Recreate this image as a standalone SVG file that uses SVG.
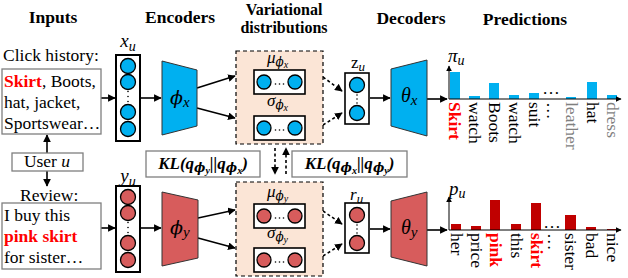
<svg xmlns="http://www.w3.org/2000/svg" width="628" height="278" viewBox="0 0 628 278">
<style>
text{font-family:"Liberation Serif","Times New Roman",serif;fill:#000}
.ti{font-size:17.5px;font-weight:bold;text-anchor:middle}
.ti2{font-size:16px}
.bd{font-size:17.5px}
.rd{fill:#ff0000;font-weight:bold}
.gy{fill:#7f7f7f}
.m{font-style:italic}
.ph{font-family:"DejaVu Serif","Liberation Serif",serif;font-style:italic}
.lb{font-size:17.5px}
.kl{font-size:17px;font-weight:bold;font-style:italic}
.tb{fill:#fff;stroke:#7f7f7f;stroke-width:1.3}
.col{fill:#fff;stroke:#000;stroke-width:2}
.ib{fill:#fff;stroke:#000;stroke-width:1.6}
.cb{fill:#00b0f0;stroke:#000;stroke-width:1.3}
.cr{fill:#d75c5c;stroke:#000;stroke-width:1.3}
.tzb{fill:#00b0f0;stroke:#333;stroke-width:1}
.tzr{fill:#d75c5c;stroke:#333;stroke-width:1}
.vd{fill:#fbe5d6;stroke:#000;stroke-width:1.2;stroke-dasharray:4,3}
.ar{fill:none;stroke:#000;stroke-width:1.6;marker-end:url(#ah)}
.da{fill:none;stroke:#000;stroke-width:1.6;stroke-dasharray:3,2.5;marker-end:url(#ah)}
.ax{fill:none;stroke:#000;stroke-width:1;marker-end:url(#ah2)}
.bb{fill:#00b0f0}
.br{fill:#c00000}
.dot{fill:#000}
</style>
<defs>
<marker id="ah" viewBox="0 0 10 10" refX="9" refY="5" markerWidth="4.8" markerHeight="4.8" orient="auto"><path d="M0,0 L10,5 L0,10 z" fill="#000"/></marker>
<marker id="ah2" viewBox="0 0 10 10" refX="9" refY="5" markerWidth="6" markerHeight="6" orient="auto"><path d="M0,0 L10,5 L0,10 z" fill="#000"/></marker>
</defs>

<g id="titles">
<text class="ti" x="53" y="23">Inputs</text>
<text class="ti" x="180" y="23">Encoders</text>
<text class="ti ti2" x="284" y="14.5">Variational</text>
<text class="ti ti2" x="284" y="32.5">distributions</text>
<text class="ti" x="411" y="24">Decoders</text>
<text class="ti" x="525" y="25">Predictions</text>
</g>

<g id="connectors">
<path class="ar" d="M47,153 V135"/>
<path class="ar" d="M47,171 V186"/>
<path class="ar" d="M101,98 H115"/>
<path class="ar" d="M141,98 H161"/>
<path class="ar" d="M197,88 L235,76"/>
<path class="ar" d="M197,108 L235,118"/>
<path class="da" d="M323,77 L342,91"/>
<path class="da" d="M323,125 L342,113"/>
<path class="ar" d="M370,98 H390"/>
<path class="ar" d="M427,99 H447"/>
<path class="ar" d="M101,228 H115"/>
<path class="ar" d="M141,228 H161"/>
<path class="ar" d="M198,218 L235,210"/>
<path class="ar" d="M198,238 L235,248"/>
<path class="da" d="M323,211 L342,224"/>
<path class="da" d="M323,256 L342,244"/>
<path class="ar" d="M370,229 H390"/>
<path class="ar" d="M427,230 H447"/>
<path class="da" d="M275,148 V174"/>
<path class="da" d="M286,174 V148"/>
</g>

<g id="click-history">
<text class="bd" x="3" y="61">Click history:</text>
<rect class="tb" x="2" y="69" width="99" height="65"/>
<text class="bd" x="4" y="87"><tspan class="rd">Skirt</tspan>, Boots,</text>
<text class="bd" x="4" y="108">hat, jacket,</text>
<text class="bd" x="4" y="129">Sportswear…</text>
</g>

<g id="user">
<rect class="tb" x="12" y="153" width="71" height="18"/>
<text class="bd" x="47" y="167" text-anchor="middle">User <tspan class="m">u</tspan></text>
</g>

<g id="review">
<text class="bd" x="20" y="201">Review:</text>
<rect class="tb" x="2" y="203" width="99" height="66"/>
<text class="bd" x="4" y="221">I buy this</text>
<text class="bd rd" x="4" y="242">pink skirt</text>
<text class="bd" x="4" y="263">for sister…</text>
</g>

<g id="xu">
<text class="m" x="128" y="47" font-size="19" text-anchor="middle">x<tspan dy="4" font-size="14">u</tspan></text>
<rect class="col" x="116" y="55" width="24" height="86"/>
<circle class="cb" cx="128" cy="66" r="7.5"/>
<circle class="cb" cx="128" cy="82" r="7.5"/>
<circle class="dot" cx="128" cy="91.5" r="0.8"/>
<circle class="dot" cx="128" cy="96.5" r="0.8"/>
<circle class="dot" cx="128" cy="101.5" r="0.8"/>
<circle class="cb" cx="128" cy="112" r="7.5"/>
<circle class="cb" cx="128" cy="129" r="7.5"/>
</g>

<g id="yu">
<text class="m" x="128" y="182" font-size="19" text-anchor="middle">y<tspan dy="4" font-size="14">u</tspan></text>
<rect class="col" x="116" y="186" width="24" height="86"/>
<circle class="cr" cx="128" cy="197" r="7.5"/>
<circle class="cr" cx="128" cy="213" r="7.5"/>
<circle class="dot" cx="128" cy="222.5" r="0.8"/>
<circle class="dot" cx="128" cy="227.5" r="0.8"/>
<circle class="dot" cx="128" cy="232.5" r="0.8"/>
<circle class="cr" cx="128" cy="243" r="7.5"/>
<circle class="cr" cx="128" cy="260" r="7.5"/>
</g>

<g id="enc-x">
<path class="tzb" d="M162,61 L197,70 L197,126 L162,135 Z"/>
<text x="170" y="104" font-size="19"><tspan class="ph">ϕ</tspan><tspan class="m" dy="3" font-size="15">x</tspan></text>
</g>

<g id="enc-y">
<path class="tzr" d="M162,192 L198,200 L198,258 L162,266 Z"/>
<text x="170" y="234" font-size="19"><tspan class="ph">ϕ</tspan><tspan class="m" dy="3" font-size="15">y</tspan></text>
</g>

<g id="var-x">
<rect class="vd" x="236" y="51" width="87" height="93"/>
<text class="m" x="267" y="63" font-size="17">μ<tspan class="ph" dy="3" font-size="12">ϕ</tspan><tspan dy="2" font-size="10">x</tspan></text>
<rect class="ib" x="254" y="70" width="51" height="24"/>
<circle class="cb" cx="264" cy="82" r="7"/>
<circle class="cb" cx="295" cy="82" r="7"/>
<circle class="dot" cx="275.5" cy="84" r="0.8"/>
<circle class="dot" cx="279.5" cy="84" r="0.8"/>
<circle class="dot" cx="283.5" cy="84" r="0.8"/>
<text class="m" x="267" y="106" font-size="17">σ<tspan class="ph" dy="3" font-size="12">ϕ</tspan><tspan dy="2" font-size="10">x</tspan></text>
<rect class="ib" x="254" y="116" width="51" height="24"/>
<circle class="cb" cx="264" cy="128" r="7"/>
<circle class="cb" cx="295" cy="128" r="7"/>
<circle class="dot" cx="275.5" cy="130" r="0.8"/>
<circle class="dot" cx="279.5" cy="130" r="0.8"/>
<circle class="dot" cx="283.5" cy="130" r="0.8"/>
</g>

<g id="var-y">
<rect class="vd" x="236" y="182" width="87" height="94"/>
<text class="m" x="267" y="197" font-size="17">μ<tspan class="ph" dy="3" font-size="12">ϕ</tspan><tspan dy="2" font-size="10">y</tspan></text>
<rect class="ib" x="254" y="204" width="51" height="24"/>
<circle class="cr" cx="264" cy="216" r="7"/>
<circle class="cr" cx="295" cy="216" r="7"/>
<circle class="dot" cx="275.5" cy="218" r="0.8"/>
<circle class="dot" cx="279.5" cy="218" r="0.8"/>
<circle class="dot" cx="283.5" cy="218" r="0.8"/>
<text class="m" x="267" y="238" font-size="17">σ<tspan class="ph" dy="3" font-size="12">ϕ</tspan><tspan dy="2" font-size="10">y</tspan></text>
<rect class="ib" x="254" y="248" width="51" height="24"/>
<circle class="cr" cx="264" cy="260" r="7"/>
<circle class="cr" cx="295" cy="260" r="7"/>
<circle class="dot" cx="275.5" cy="262" r="0.8"/>
<circle class="dot" cx="279.5" cy="262" r="0.8"/>
<circle class="dot" cx="283.5" cy="262" r="0.8"/>
</g>

<g id="kl-left">
<rect class="tb" x="146" y="151" width="114" height="26"/>
<text class="kl" x="203" y="169" text-anchor="middle">KL(q<tspan class="ph" dy="3" font-size="12">ϕ</tspan><tspan dy="2" font-size="10">y</tspan><tspan dy="-5">||q</tspan><tspan class="ph" dy="3" font-size="12">ϕ</tspan><tspan dy="2" font-size="10">x</tspan><tspan dy="-5">)</tspan></text>
</g>

<g id="kl-right">
<rect class="tb" x="292" y="151" width="115" height="26"/>
<text class="kl" x="349.5" y="169" text-anchor="middle">KL(q<tspan class="ph" dy="3" font-size="12">ϕ</tspan><tspan dy="2" font-size="10">x</tspan><tspan dy="-5">||q</tspan><tspan class="ph" dy="3" font-size="12">ϕ</tspan><tspan dy="2" font-size="10">y</tspan><tspan dy="-5">)</tspan></text>
</g>

<g id="zu">
<text x="351" y="68" font-size="17">z<tspan class="m" dy="3" font-size="13">u</tspan></text>
<rect class="ib" x="345" y="73" width="24" height="51"/>
<circle class="cb" cx="357" cy="85" r="7.5"/>
<circle class="dot" cx="357" cy="95" r="0.8"/>
<circle class="dot" cx="357" cy="99" r="0.8"/>
<circle class="dot" cx="357" cy="103" r="0.8"/>
<circle class="cb" cx="357" cy="113" r="7.5"/>
</g>

<g id="ru">
<text class="m" x="350" y="200" font-size="17">r<tspan dy="3" font-size="13">u</tspan></text>
<rect class="ib" x="345" y="203" width="24" height="50"/>
<circle class="cr" cx="357" cy="215" r="7.5"/>
<circle class="dot" cx="357" cy="225" r="0.8"/>
<circle class="dot" cx="357" cy="229" r="0.8"/>
<circle class="dot" cx="357" cy="233" r="0.8"/>
<circle class="cr" cx="357" cy="243" r="7.5"/>
</g>

<g id="dec-x">
<path class="tzb" d="M391,69 L427,60 L427,136 L391,126 Z"/>
<text class="m" x="401" y="102" font-size="20">θ<tspan dy="3" font-size="15">x</tspan></text>
</g>

<g id="dec-y">
<path class="tzr" d="M391,201 L427,192 L427,266 L391,257 Z"/>
<text class="m" x="401" y="234" font-size="20">θ<tspan dy="3" font-size="15">y</tspan></text>
</g>

<g id="pred-x">
<text class="m" x="448" y="62" font-size="19">π<tspan dy="3" font-size="14">u</tspan></text>
<rect class="bb" x="450" y="72" width="10" height="27"/>
<rect class="bb" x="469" y="96" width="11" height="3"/>
<rect class="bb" x="489" y="83" width="10" height="16"/>
<rect class="bb" x="509" y="95" width="10" height="4"/>
<rect class="bb" x="529" y="93" width="10" height="6"/>
<rect class="bb" x="566" y="97" width="10" height="2"/>
<rect class="bb" x="587" y="82" width="10" height="17"/>
<rect class="bb" x="607" y="95" width="10" height="4"/>
<path class="ax" d="M449,99 V66"/>
<path class="ax" d="M449,99 H621"/>
<text class="lb" x="551" y="94" text-anchor="middle">…</text>
<text class="lb rd" transform="translate(449,102) rotate(90)">Skirt</text>
<text class="lb" transform="translate(469,102) rotate(90)">watch</text>
<text class="lb" transform="translate(489,102) rotate(90)">Boots</text>
<text class="lb" transform="translate(509,102) rotate(90)">watch</text>
<text class="lb" transform="translate(529,102) rotate(90)">suit</text>
<text class="lb" transform="translate(547,102) rotate(90)">…</text>
<text class="lb gy" transform="translate(566,102) rotate(90)">leather</text>
<text class="lb" transform="translate(587,102) rotate(90)">hat</text>
<text class="lb gy" transform="translate(607,102) rotate(90)">dress</text>
</g>

<g id="pred-y">
<text class="m" x="449" y="195" font-size="19">p<tspan dy="3" font-size="14">u</tspan></text>
<rect class="br" x="451" y="224" width="10" height="6"/>
<rect class="br" x="471" y="226" width="10" height="4"/>
<rect class="br" x="490" y="200" width="10" height="30"/>
<rect class="br" x="511" y="224" width="10" height="6"/>
<rect class="br" x="531" y="203" width="10" height="27"/>
<rect class="br" x="565" y="215" width="11" height="15"/>
<rect class="br" x="586" y="227" width="10" height="3"/>
<rect class="br" x="607" y="229" width="10" height="1"/>
<path class="ax" d="M449,230 V197"/>
<path class="ax" d="M449,230 H621"/>
<text class="lb" x="552" y="228" text-anchor="middle">…</text>
<text class="lb" transform="translate(451,233) rotate(90)">her</text>
<text class="lb" transform="translate(471,233) rotate(90)">price</text>
<text class="lb rd" transform="translate(490,233) rotate(90)">pink</text>
<text class="lb" transform="translate(511,233) rotate(90)">this</text>
<text class="lb rd" transform="translate(531,233) rotate(90)">skirt</text>
<text class="lb" transform="translate(548,233) rotate(90)">…</text>
<text class="lb" transform="translate(565,233) rotate(90)">sister</text>
<text class="lb" transform="translate(586,233) rotate(90)">bad</text>
<text class="lb" transform="translate(607,233) rotate(90)">nice</text>
</g>
</svg>
